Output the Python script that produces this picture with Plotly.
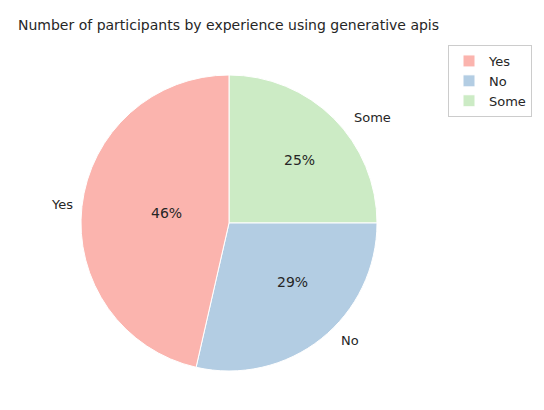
import math
import plotly.graph_objects as go

labels = ["Yes", "No", "Some"]
counts = [13, 8, 7]
colors = ["#fbb4ae", "#b3cde3", "#ccebc5"]

W, H = 544, 410
cx, cy, r = 229, 215, 148
dx = -8  # compensation for plotly's pie placement

fig = go.Figure(go.Pie(
    labels=labels[::-1], values=counts[::-1], sort=False, direction="clockwise",
    rotation=0, textinfo="none", hoverinfo="label+percent",
    marker=dict(colors=colors[::-1], line=dict(color="white", width=1)),
    domain=dict(x=[(cx + dx - r) / W, (cx + dx + r) / W], y=[(H - cy - r) / H, (H - cy + r) / H]),
))

total = sum(counts)
ann = []
start = 90.0
for lab, c in zip(labels, counts):
    frac = c / total
    mid = math.radians(start + frac * 360 / 2)
    start += frac * 360
    # outer label
    px = cx + 1.1 * r * math.cos(mid)
    py = cy - 1.1 * r * math.sin(mid)
    ann.append(dict(x=px / W, y=1 - py / H, xref="paper", yref="paper", text=lab,
                    xanchor="right" if math.cos(mid) < 0 else "left",
                    showarrow=False, font=dict(size=13, color="#262626")))
    px = cx + 0.6 * r * math.cos(mid)
    py = cy - 0.6 * r * math.sin(mid)
    ann.append(dict(x=px / W, y=1 - py / H, xref="paper", yref="paper", text=f"{frac*100:.0f}%",
                    showarrow=False, font=dict(size=14, color="#262626")))

fig.update_layout(
    width=W, height=H, margin=dict(l=0, r=0, t=0, b=0),
    paper_bgcolor="white", plot_bgcolor="white",
    font=dict(family="DejaVu Sans", color="#262626"),
    title=dict(text="Number of participants by experience using generative apis",
               x=10 / W, xanchor="left", y=1 - 17 / H, yanchor="middle", font=dict(size=14)),
    legend=dict(x=440 / W, y=1 - 37 / H, xanchor="left", yanchor="top", traceorder="reversed",
                bordercolor="#cccccc", borderwidth=1, font=dict(size=13)),
    annotations=ann,
)
fig.write_html("out.html")
